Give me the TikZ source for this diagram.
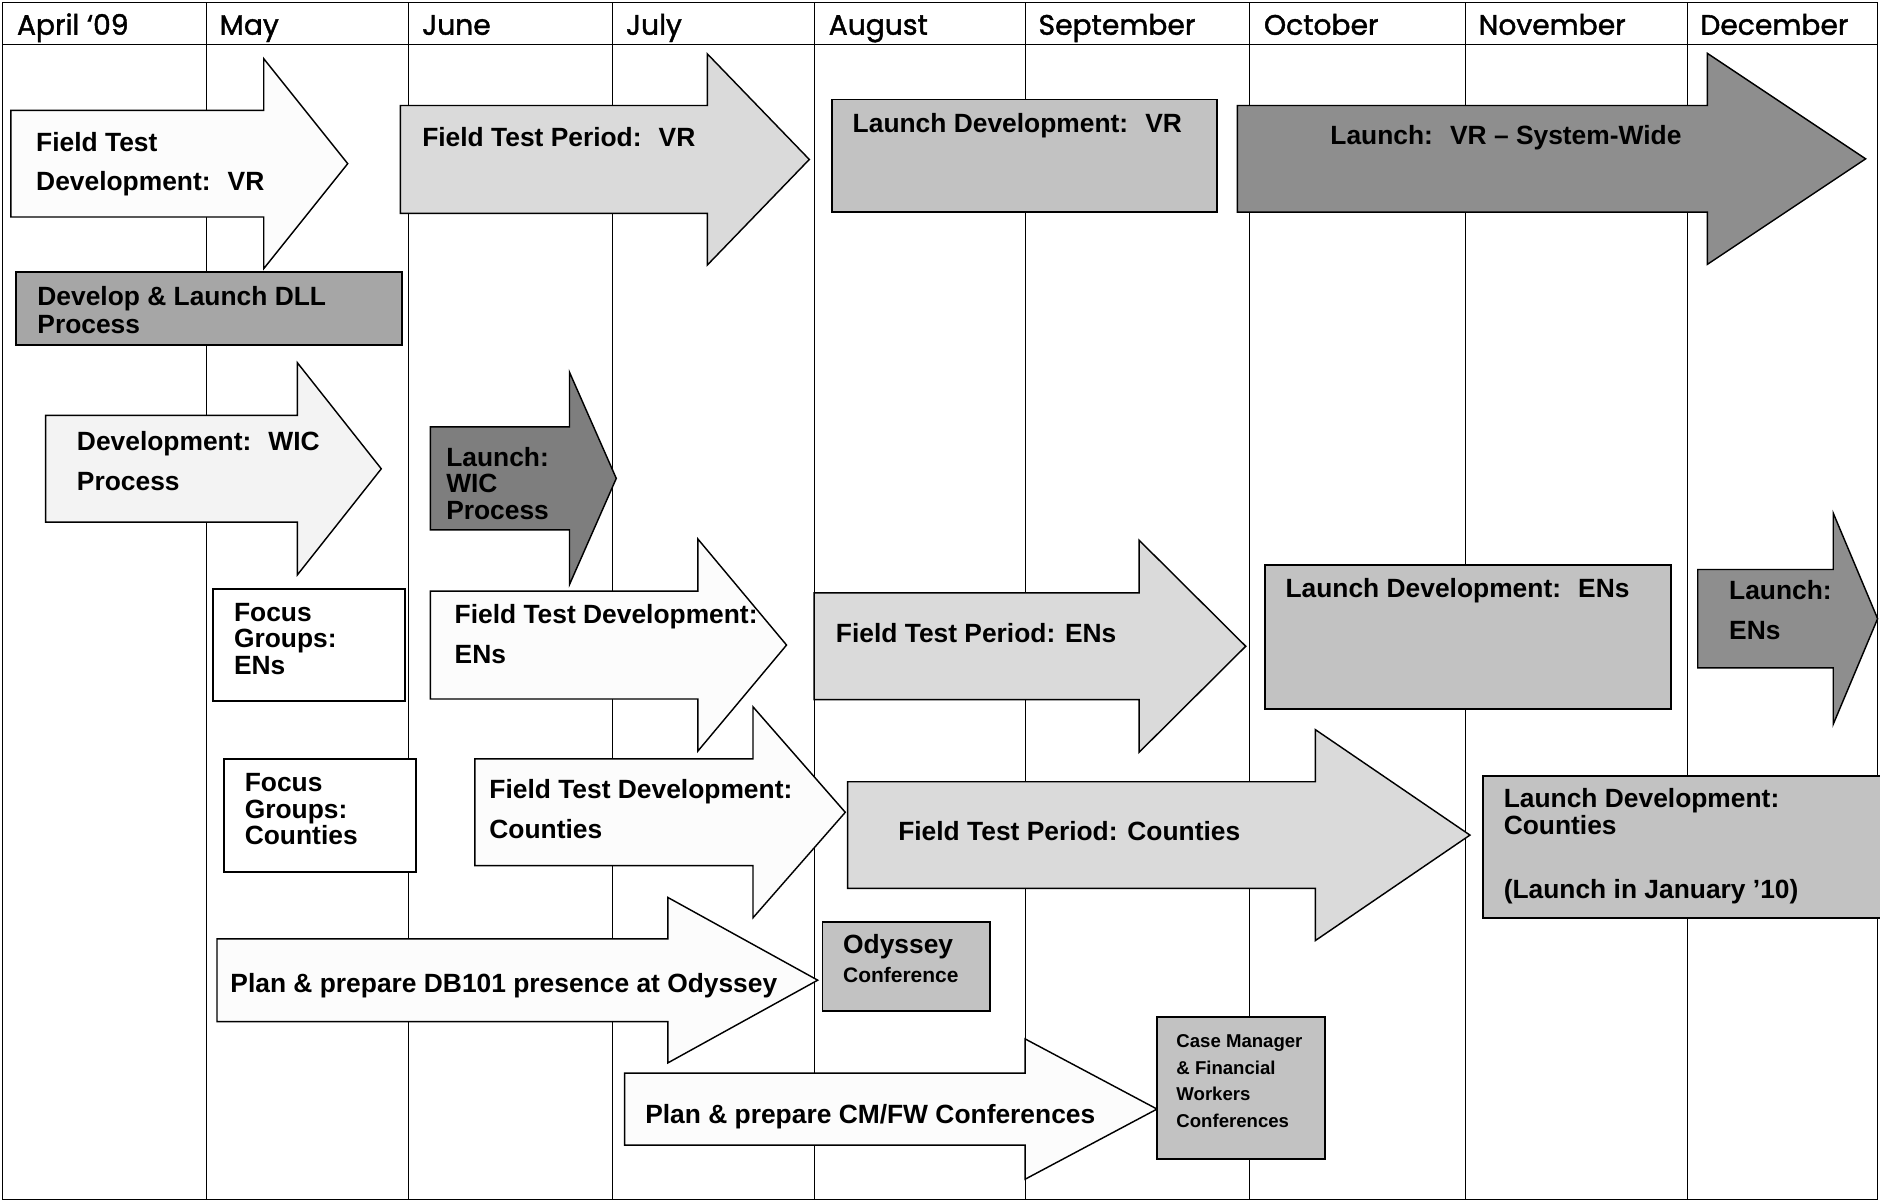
\documentclass[tikz,border=0pt]{standalone}
\usepackage{fontspec}
\usepackage{xcolor}
\newfontfamily\barfont{Liberation Sans}
\newfontfamily\monthfont[FakeBold=1.5]{Poppins}
\definecolor{wfill}{HTML}{FCFCFC}
\definecolor{pale}{HTML}{F3F3F3}
\definecolor{lgray}{HTML}{DADADA}
\definecolor{mgray}{HTML}{C2C2C2}
\definecolor{dgray}{HTML}{A6A6A6}
\definecolor{xgray}{HTML}{8E8E8E}
\definecolor{wgray}{HTML}{7E7E7E}

\begin{document}
\begin{tikzpicture}[
  x=1pt,y=-1pt,
  grid/.style={line width=0.8pt},
  shp/.style={draw,line width=1.2pt,line join=miter},
  box/.style={draw,line width=1.6pt},
  lbl/.style={anchor=north west,inner sep=0pt,align=left,font=\barfont\bfseries\fontsize{22}{23}\selectfont},
  wide/.style={font=\barfont\bfseries\fontsize{22}{33}\selectfont},
  tight/.style={font=\barfont\bfseries\fontsize{22}{22}\selectfont},
  month/.style={anchor=base west,inner sep=0pt,font=\monthfont\fontsize{23.5}{26}\selectfont}
]
\useasboundingbox (0,0) rectangle (1568,1003);

% block arrow: fill, left, neck, tip, centre y, half body, half head
\newcommand{\blockarr}[7]{%
  \draw[shp,fill=#1] (#2,#5-#6) -- (#3,#5-#6) -- (#3,#5-#7) -- (#4,#5)
    -- (#3,#5+#7) -- (#3,#5+#6) -- (#2,#5+#6) -- cycle;}

% frame, header row and month columns
\draw[grid] (2,2) rectangle (1566,1000);
\draw[grid] (2,37) -- (1566,37);
\foreach \gx in {172,341,511,679,855,1042,1222,1407}
  \draw[grid] (\gx,2) -- (\gx,1000);
\foreach \mx/\mname in {14/April ‘09,183/May,352/June,522/July,691/August,866/September,1054/October,1233/November,1418/December}
  \node[month] (m\mx) at (\mx,29) {\mname};

% VR
\blockarr{wfill}{9}{220}{290}{136.5}{44.5}{87.5}
\node[lbl,wide] (ftdvr) at (30,110) {Field Test\\Development:~ VR};
\blockarr{lgray}{334}{590}{675}{133}{45}{88}
\node[lbl] (ftpvr) at (352,106) {Field Test Period:~ VR};
\draw[box,fill=mgray] (694,83) rectangle (1015,177);
\node[lbl] (ldvr) at (711,94) {Launch Development:~ VR};
\blockarr{xgray}{1032}{1424}{1556}{132.5}{44.5}{88}
\node[lbl,anchor=north] (lvr) at (1256,104) {Launch:~ VR – System-Wide};

% DLL
\draw[box,fill=dgray] (13,227) rectangle (335,288);
\node[lbl] (dll) at (31,239) {Develop \& Launch DLL\\Process};

% WIC
\blockarr{pale}{38}{248}{318}{391}{44.5}{88.5}
\node[lbl,wide] (dwic) at (64,360) {Development:~ WIC\\Process};
\blockarr{wgray}{359}{475}{514}{399}{43}{88.5}
\node[lbl,tight] (lwic) at (372,373) {Launch:\\WIC\\Process};

% ENs
\draw[box,fill=white] (178,491) rectangle (338,585);
\node[lbl,tight] (fgen) at (195,503) {Focus\\Groups:\\ENs};
\blockarr{wfill}{359}{582}{656}{538}{45}{88.5}
\node[lbl,wide] (ftden) at (379,504) {Field Test Development:\\ENs};
\blockarr{lgray}{679}{950}{1039}{539}{44.5}{88.5}
\node[lbl] (ftpen) at (697,520) {Field Test Period: ENs};
\draw[box,fill=mgray] (1055,471) rectangle (1394,591);
\node[lbl] (lden) at (1072,482) {Launch Development:~ ENs};
\blockarr{xgray}{1416}{1529}{1566}{516}{41}{88}
\node[lbl,wide] (len) at (1442,484) {Launch:\\ENs};

% Counties
\draw[box,fill=white] (187,633) rectangle (347,727);
\node[lbl,tight] (fgco) at (204,645) {Focus\\Groups:\\Counties};
\blockarr{wfill}{396}{628}{705}{677.5}{44.5}{88}
\node[lbl,wide] (ftdco) at (408,650) {Field Test Development:\\Counties};
\blockarr{lgray}{707}{1097}{1226}{696.5}{44.5}{88}
\node[lbl] (ftpco) at (749,685) {Field Test Period: Counties};
\draw[box,fill=mgray] (1237,647) rectangle (1570,766);
\node[lbl] (ldco) at (1254,657) {Launch Development:\\Counties\\[30pt](Launch in January ’10)};

% conferences
\blockarr{wfill}{181}{557}{682}{817.5}{34.5}{69}
\node[lbl] (ody) at (192,812) {Plan \& prepare DB101 presence at Odyssey};
\draw[box,fill=mgray] (686,769) rectangle (826,843);
\node[lbl,font=\barfont\bfseries\fontsize{22}{24}\selectfont] (odyc) at (703,779) {Odyssey\\{\fontsize{17.5}{20}\selectfont Conference}};
\blockarr{wfill}{521}{855}{965}{925}{30}{58.5}
\node[lbl] (cmfw) at (538,921) {Plan \& prepare CM/FW Conferences};
\draw[box,fill=mgray] (965,848) rectangle (1105,967);
\node[lbl,font=\barfont\bfseries\fontsize{15.5}{22}\selectfont] (cmfwc) at (981,863) {Case Manager\\\& Financial\\Workers\\Conferences};
\end{tikzpicture}
\end{document}
